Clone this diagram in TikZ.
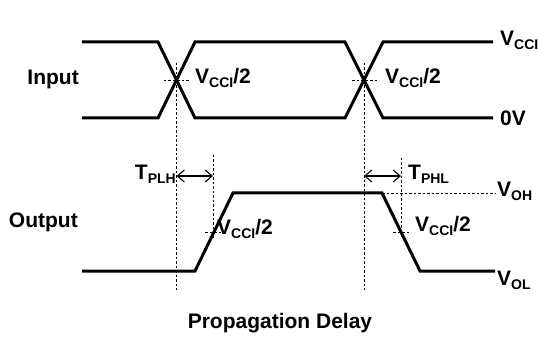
\documentclass[tikz,border=0pt]{standalone}
\usepackage{fontspec}
\setmainfont{Liberation Sans}
\usetikzlibrary{arrows.meta}
\newcommand{\lvl}[2]{#1\raisebox{-0.35ex}{\fontsize{14}{14}\selectfont #2}}

\begin{document}
\begin{tikzpicture}[x=1pt,y=-1pt,
    wave/.style={line width=3pt},
    guide/.style={dash pattern=on 2.5pt off 2pt, line width=0.8pt},
    delay/.style={{Straight Barb[length=7pt,width=12pt]}-{Straight Barb[length=7pt,width=12pt]}, line width=1.1pt},
    lbl/.style={font=\fontsize{21}{21}\selectfont\bfseries, inner sep=0pt}]
   \useasboundingbox (0,0) rectangle (538,339);
   % input
    \draw[wave] (82,42) -- (158,42) -- (195,118) -- (345,118) -- (383,42) -- (493,42);
    \draw[wave] (82,118) -- (158,118) -- (195,42) -- (345,42) -- (383,118) -- (493,118);
    \coordinate (rise) at (176.5,80);
    \coordinate (fall) at (364,80);
   % output
    \draw[wave] (82,271) -- (195,271) -- (233,193) -- (382,193) -- (420,271) -- (495,271);
    \coordinate (orise) at (213,232);
    \coordinate (ofall) at (401,232);
   % guides
    \draw[guide] (rise |- 0,63) -- (rise |- 0,290);
    \draw[guide] (fall |- 0,63) -- (fall |- 0,290);
    \draw[guide] (orise |- 0,155) -- (orise |- 0,240);
    \draw[guide] (ofall |- 0,158) -- (ofall |- 0,238);
    \draw[guide] ([xshift=-13pt]rise) -- ([xshift=13pt]rise);
    \draw[guide] ([xshift=-12pt]fall) -- ([xshift=13pt]fall);
    \draw[guide] ([xshift=-8pt]orise) -- ([xshift=8pt]orise);
    \draw[guide] ([xshift=-8pt]ofall) -- ([xshift=8pt]ofall);
    \draw[guide] (382,193) -- (495,193);
   % delays
    \draw[delay] (rise |- 0,176) -- (orise |- 0,176);
    \draw[delay] (fall |- 0,176) -- (ofall |- 0,176);
   % labels
    \node[lbl, anchor=east] (in) at (79,79) {Input};
    \node[lbl, anchor=east] (out) at (78,222) {Output};
    \node[lbl, anchor=west] (vcci) at (500,40) {\lvl{V}{CCI}};
    \node[lbl, anchor=west] (zero) at (500,118) {0V};
    \node[lbl, anchor=west] (voh) at (497,191) {\lvl{V}{OH}};
    \node[lbl, anchor=west] (vol) at (497,280) {\lvl{V}{OL}};
    \node[lbl, anchor=west] (h1) at (195,78) {\lvl{V}{CCI}/2};
    \node[lbl, anchor=west] (h2) at (385,78) {\lvl{V}{CCI}/2};
    \node[lbl, anchor=west] (h3) at (217,229) {\lvl{V}{CCI}/2};
    \node[lbl, anchor=west] (h4) at (415,226) {\lvl{V}{CCI}/2};
    \node[lbl, anchor=east] (tplh) at (176,174) {\lvl{T}{PLH}};
    \node[lbl, anchor=west] (tphl) at (408,174) {\lvl{T}{PHL}};
    \node[lbl] (title) at (280,323) {Propagation Delay};
\end{tikzpicture}
\end{document}
